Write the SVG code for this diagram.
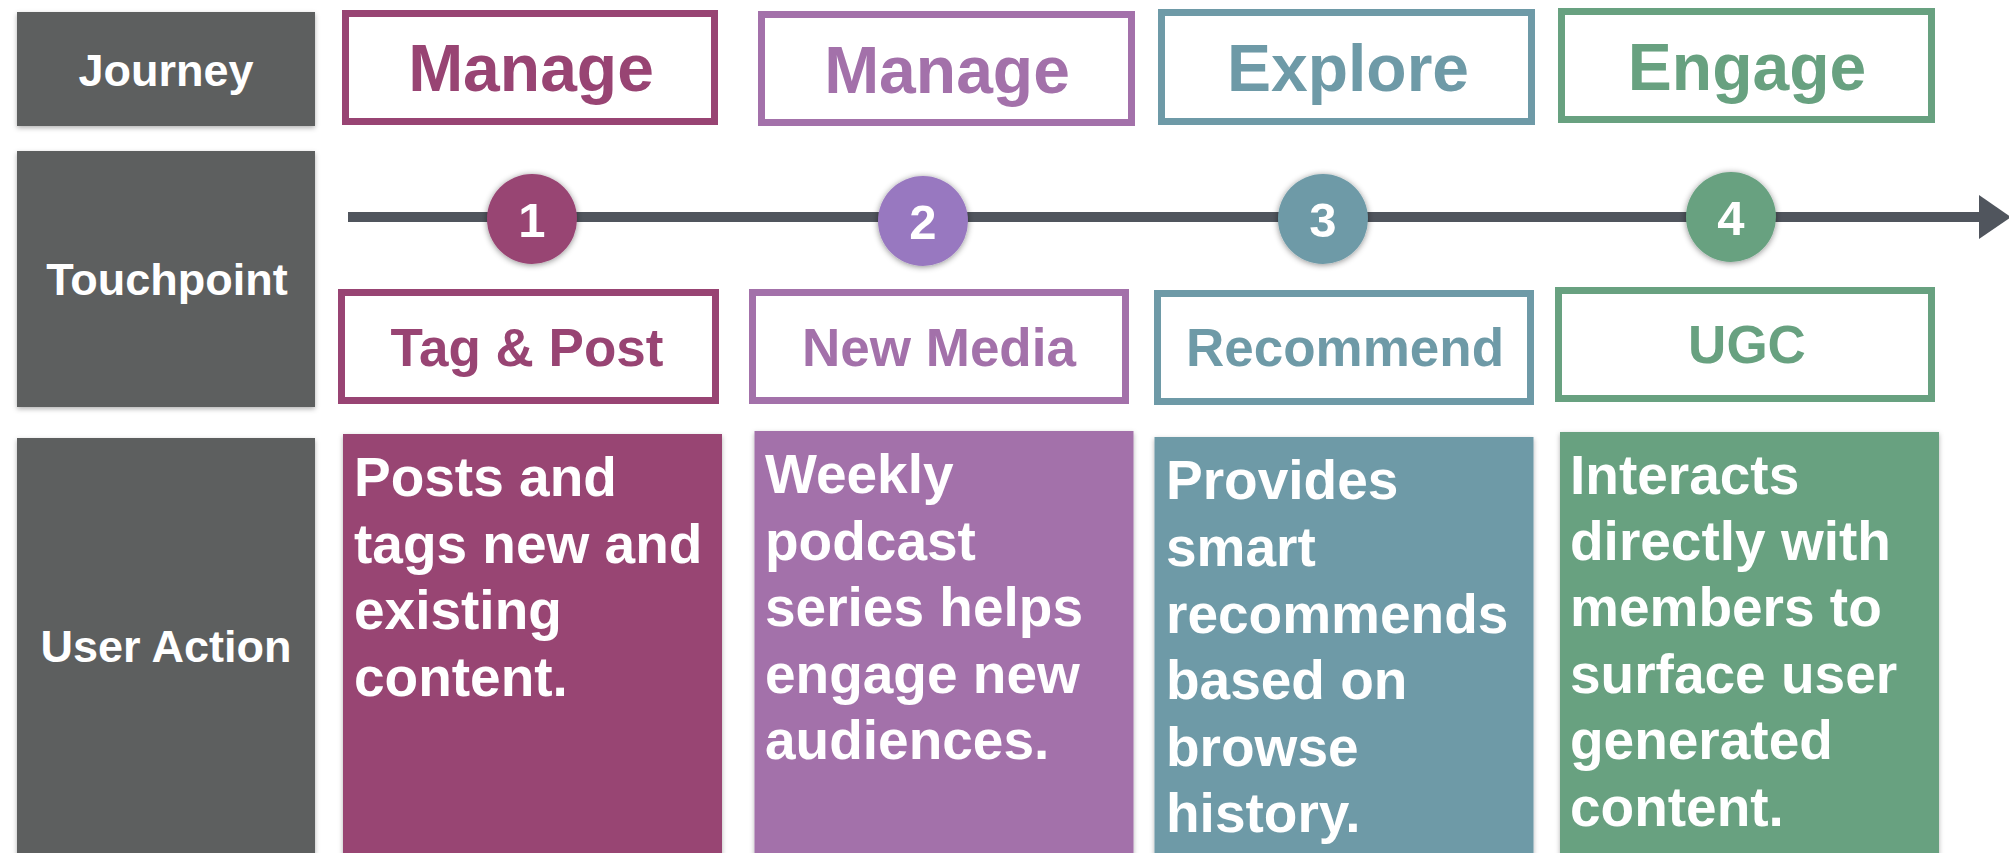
<svg xmlns="http://www.w3.org/2000/svg" width="2009" height="853" viewBox="0 0 2009 853">
<defs>
<filter id="sh" x="-10%" y="-10%" width="120%" height="120%"><feDropShadow dx="0" dy="2" stdDeviation="2.5" flood-color="#000" flood-opacity="0.3"/></filter>
<filter id="csh" x="-30%" y="-30%" width="160%" height="160%"><feDropShadow dx="0" dy="1" stdDeviation="3" flood-color="#000" flood-opacity="0.45"/></filter>
<style>
text{font-family:"Liberation Sans",Arial,Helvetica,sans-serif;font-weight:bold}
.lab{fill:#5d5e5e;filter:url(#sh)}
.labt{fill:#fff;font-size:45px;text-anchor:middle}
.ob{fill:#fff;stroke-width:7}
.jt{font-size:66px;text-anchor:middle}
.tt{font-size:53px;text-anchor:middle}
.num{fill:#fff;font-size:49px;text-anchor:middle}
.body{fill:#fff;font-size:55px}
.c1{stroke:#984473}.f1{fill:#984473}
.c2{stroke:#a371aa}.f2{fill:#a371aa}
.c3{stroke:#6e9aa7}.f3{fill:#6e9aa7}
.c4{stroke:#68a180}.f4{fill:#68a180}
</style>
</defs>
<rect width="2009" height="853" fill="#fff"/>
<g id="labels">
<g id="label-journey"><rect class="lab" x="17" y="12" width="298" height="114"/><text class="labt" x="166" y="86">Journey</text></g>
<g id="label-touchpoint"><rect class="lab" x="17" y="151" width="298" height="256"/><text class="labt" x="167" y="295">Touchpoint</text></g>
<g id="label-useraction"><rect class="lab" x="17" y="438" width="298" height="430"/><text class="labt" x="166" y="662">User Action</text></g>
</g>
<g id="connectors">
<line x1="348" y1="217" x2="1982" y2="217" stroke="#50555d" stroke-width="10"/>
<polygon points="1979,195 2011,217 1979,239" fill="#50555d"/>
</g>
<g id="journey-1"><rect class="ob c1" x="345.5" y="13.5" width="369" height="108"/><text class="jt f1" x="531" y="91">Manage</text></g>
<g id="journey-2"><rect class="ob c2" x="761.5" y="14.5" width="370" height="108"/><text class="jt f2" x="947" y="93">Manage</text></g>
<g id="journey-3"><rect class="ob c3" x="1161.5" y="12.5" width="370" height="109"/><text class="jt f3" x="1348" y="91">Explore</text></g>
<g id="journey-4"><rect class="ob c4" x="1561.5" y="11.5" width="370" height="108"/><text class="jt f4" x="1747" y="90">Engage</text></g>
<g id="step-1"><circle cx="532" cy="219" r="45" fill="#984473" filter="url(#csh)"/><text class="num" x="532" y="237">1</text></g>
<g id="step-2"><circle cx="923" cy="221" r="45" fill="#9878c0" filter="url(#csh)"/><text class="num" x="923" y="239">2</text></g>
<g id="step-3"><circle cx="1323" cy="219" r="45" fill="#6e9aa7" filter="url(#csh)"/><text class="num" x="1323" y="237">3</text></g>
<g id="step-4"><circle cx="1731" cy="217" r="45" fill="#68a180" filter="url(#csh)"/><text class="num" x="1731" y="235">4</text></g>
<g id="touch-1"><rect class="ob c1" x="341.5" y="292.5" width="374" height="108"/><text class="tt f1" x="527" y="366">Tag &amp; Post</text></g>
<g id="touch-2"><rect class="ob c2" x="752.5" y="292.5" width="373" height="108"/><text class="tt f2" x="939" y="366">New Media</text></g>
<g id="touch-3"><rect class="ob c3" x="1157.5" y="293.5" width="373" height="108"/><text class="tt f3" x="1345" y="366">Recommend</text></g>
<g id="touch-4"><rect class="ob c4" x="1558.5" y="290.5" width="373" height="108"/><text class="tt f4" x="1747" y="363">UGC</text></g>
<g id="action-1"><rect class="f1" x="343" y="434" width="379" height="430" filter="url(#sh)"/>
<text class="body"><tspan x="354" y="496">Posts and</tspan><tspan x="354" y="562.7">tags new and</tspan><tspan x="354" y="629.3">existing</tspan><tspan x="354" y="696">content.</tspan></text></g>
<g id="action-2"><rect class="f2" x="754.5" y="431" width="379" height="430" filter="url(#sh)"/>
<text class="body"><tspan x="765" y="493">Weekly</tspan><tspan x="765" y="560">podcast</tspan><tspan x="765" y="626">series helps</tspan><tspan x="765" y="693">engage new</tspan><tspan x="765" y="759">audiences.</tspan></text></g>
<g id="action-3"><rect class="f3" x="1154.5" y="437" width="379" height="430" filter="url(#sh)"/>
<text class="body"><tspan x="1166" y="499">Provides</tspan><tspan x="1166" y="566">smart</tspan><tspan x="1166" y="632.7">recommends</tspan><tspan x="1166" y="699">based on</tspan><tspan x="1166" y="765.5">browse</tspan><tspan x="1166" y="832">history.</tspan></text></g>
<g id="action-4"><rect class="f4" x="1560" y="432" width="379" height="430" filter="url(#sh)"/>
<text class="body"><tspan x="1570" y="494">Interacts</tspan><tspan x="1570" y="560">directly with</tspan><tspan x="1570" y="626">members to</tspan><tspan x="1570" y="693">surface user</tspan><tspan x="1570" y="759">generated</tspan><tspan x="1570" y="826">content.</tspan></text></g>
</svg>
